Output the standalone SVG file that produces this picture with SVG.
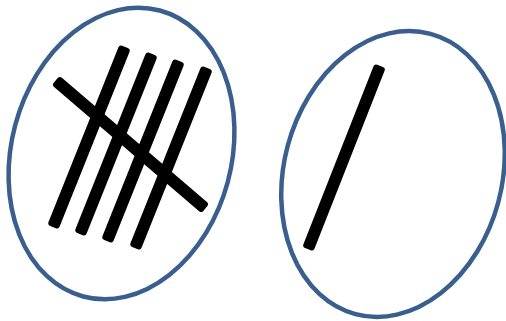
<svg xmlns="http://www.w3.org/2000/svg" width="506" height="321" viewBox="0 0 506 321">
<style>
.ring{fill:none;stroke:#3A5F8F;stroke-width:4.5}
.tally{fill:#000}
</style>
<rect width="506" height="321" fill="#fff"/>
<g id="five">
<ellipse class="ring" cx="121.5" cy="153.5" rx="110" ry="148" transform="rotate(15 121.5 153.5)"/>
<rect class="tally" x="-97" y="-6" width="194" height="12" rx="3" transform="translate(89 137) rotate(-68.2)"/>
<rect class="tally" x="-97" y="-6" width="194" height="12" rx="3" transform="translate(116 144) rotate(-68.2)"/>
<rect class="tally" x="-97" y="-6" width="194" height="12" rx="3" transform="translate(143 151) rotate(-68.2)"/>
<rect class="tally" x="-97" y="-6" width="194" height="12" rx="3" transform="translate(171 158) rotate(-68.2)"/>
<rect class="tally" x="-98.5" y="-6" width="197" height="12" rx="3" transform="translate(130.5 144.5) rotate(40.6)"/>
</g>
<g id="one">
<ellipse class="ring" cx="393" cy="174" rx="109" ry="145" transform="rotate(15 393 174)"/>
<rect class="tally" x="-98.5" y="-6" width="197" height="12" rx="3" transform="translate(344 157.5) rotate(-68.5)"/>
</g>
</svg>
